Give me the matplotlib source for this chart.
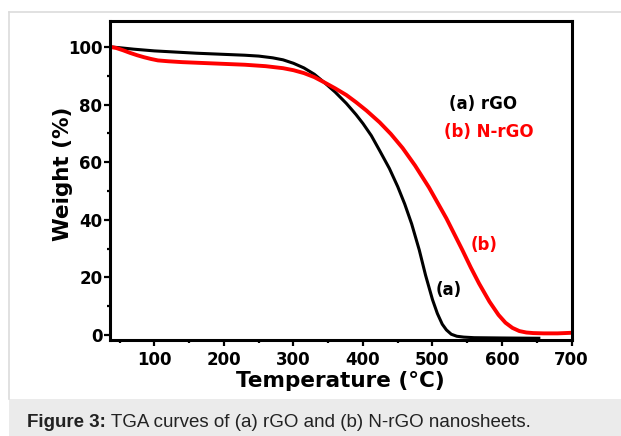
import matplotlib
matplotlib.use("Agg")
import matplotlib.pyplot as plt
from matplotlib.patches import Rectangle
from matplotlib.lines import Line2D
from matplotlib.ticker import MultipleLocator

# Data
temp_a = [36, 50, 70, 100, 130, 160, 200, 230, 250, 270, 285, 300, 315, 330, 345,
          360, 376, 390, 400, 412, 424, 438, 450, 460, 470, 481, 490, 500, 507,
          514, 520, 527, 535, 545, 560, 600, 653]
weight_a = [100, 99.7, 99.2, 98.6, 98.2, 97.8, 97.4, 97.1, 96.8, 96.2, 95.5, 94.3,
            92.7, 90.5, 87.5, 84.3, 80.4, 76.5, 73.4, 69.2, 64.0, 57.8, 51.5, 45.5,
            38.6, 29.5, 20.8, 12.3, 7.5, 3.8, 1.8, 0.3, -0.4, -0.7, -0.9, -1.0, -1.1]

temp_b = [36, 45, 55, 65, 75, 85, 95, 105, 120, 140, 170, 200, 230, 260, 285, 300,
          315, 330, 345, 360, 376, 390, 405, 424, 440, 457, 475, 495, 520, 543, 555,
          567, 582, 595, 605, 615, 625, 635, 645, 660, 680, 700]
weight_b = [100, 99.6, 98.8, 97.9, 97.1, 96.4, 95.8, 95.3, 95.0, 94.7, 94.4, 94.1,
            93.8, 93.3, 92.6, 91.9, 90.9, 89.5, 87.6, 85.6, 83.3, 80.8, 77.9, 73.8,
            69.8, 64.9, 58.8, 51.2, 40.5, 29.5, 23.5, 17.9, 11.6, 7.0, 4.3, 2.5, 1.4,
            0.9, 0.7, 0.6, 0.6, 0.8]

x_ticks = [100, 200, 300, 400, 500, 600, 700]
y_ticks = [0, 20, 40, 60, 80, 100]
label_a = "(a) rGO"
label_b = "(b) N-rGO"
caption_bold = "Figure 3:"
caption_rest = " TGA curves of (a) rGO and (b) N-rGO nanosheets."

W, H = 621, 436
fig = plt.figure(figsize=(W / 100, H / 100), dpi=100)
fig.patch.set_facecolor("white")

# frame and caption box
fig.add_artist(Rectangle((9 / W, 0), 1 - 9 / W, 37 / H, transform=fig.transFigure,
                         facecolor="#ebebeb", edgecolor="none", zorder=0))
fig.add_artist(Line2D([9 / W, 1], [1 - 12 / H, 1 - 12 / H], transform=fig.transFigure,
                      color="#dcdcdc", lw=1.2))
fig.add_artist(Line2D([9 / W, 9 / W], [37 / H, 1 - 12 / H], transform=fig.transFigure,
                      color="#dcdcdc", lw=1.2))

left, right, top, bottom = 110, 571.5, 21.5, 340
ax = fig.add_axes([left / W, 1 - bottom / H, (right - left) / W, (bottom - top) / H])
ax.plot(temp_a, weight_a, color="black", lw=2.2, solid_joinstyle="round")
ax.plot(temp_b, weight_b, color="#ff0000", lw=2.8, solid_joinstyle="round")
ax.set_xlim(36, 700)
ax.set_ylim(-1.7, 108.8)

for s in ax.spines.values():
    s.set_linewidth(2.2)
ax.set_xticks(x_ticks)
ax.set_yticks(y_ticks)
ax.xaxis.set_minor_locator(MultipleLocator(50))
ax.yaxis.set_minor_locator(MultipleLocator(10))
ax.tick_params(which="major", direction="out", length=4, width=1.6, top=False, right=False)
ax.tick_params(which="minor", direction="out", length=2.5, width=1.6, top=False, right=False)
ax.tick_params(axis="x", which="major", pad=4)
ax.tick_params(axis="y", which="major", pad=1.5)
for lab in ax.get_xticklabels() + ax.get_yticklabels():
    lab.set_fontweight("bold")
    lab.set_fontsize(12)
    lab.set_family("DejaVu Sans")

ax.set_xlabel("Temperature (°C)", fontsize=15.5, fontweight="bold", labelpad=1)
ax.set_ylabel("Weight (%)", fontsize=15.5, fontweight="bold")
ax.yaxis.set_label_coords(-0.0795, 0.521)

ax.text(523.5, 15.6, "(a)", color="black", fontsize=12, fontweight="bold",
        ha="center", va="center")
ax.text(573.5, 31.2, "(b)", color="#ff0000", fontsize=12, fontweight="bold",
        ha="center", va="center")
ax.text(573, 80.2, label_a, color="black", fontsize=12, fontweight="bold",
        ha="center", va="center")
ax.text(581, 70.6, label_b, color="#ff0000", fontsize=12, fontweight="bold",
        ha="center", va="center")

# caption
t1 = fig.text(27 / W, 1 - 422 / H, caption_bold, fontsize=13.5, fontweight="bold",
              family="Liberation Sans", va="center", ha="left", color="#222222")
fig.canvas.draw()
bb = t1.get_window_extent()
fig.text(bb.x1 / W, 1 - 422 / H, caption_rest, fontsize=13.5, family="Liberation Sans",
         va="center", ha="left", color="#222222")

fig.savefig("out.png", dpi=100)
